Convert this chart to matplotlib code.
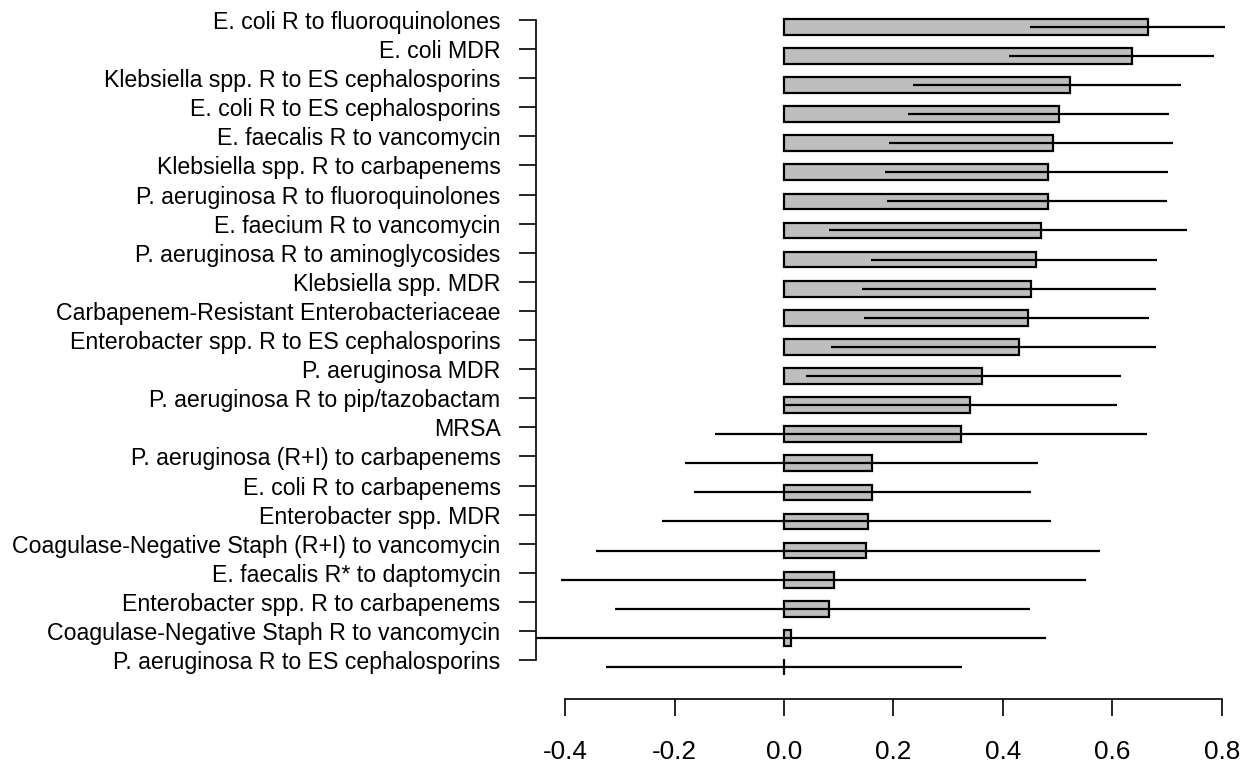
import matplotlib
matplotlib.use("Agg")
import matplotlib.pyplot as plt
import numpy as np

plt.rcParams['font.family'] = ['Liberation Sans', 'DejaVu Sans']

labels = [
    "E. coli R to fluoroquinolones",
    "E. coli MDR",
    "Klebsiella spp. R to ES cephalosporins",
    "E. coli R to ES cephalosporins",
    "E. faecalis R to vancomycin",
    "Klebsiella spp. R to carbapenems",
    "P. aeruginosa R to fluoroquinolones",
    "E. faecium R to vancomycin",
    "P. aeruginosa R to aminoglycosides",
    "Klebsiella spp. MDR",
    "Carbapenem-Resistant Enterobacteriaceae",
    "Enterobacter spp. R to ES cephalosporins",
    "P. aeruginosa MDR",
    "P. aeruginosa R to pip/tazobactam",
    "MRSA",
    "P. aeruginosa (R+I) to carbapenems",
    "E. coli R to carbapenems",
    "Enterobacter spp. MDR",
    "Coagulase-Negative Staph (R+I) to vancomycin",
    "E. faecalis R* to daptomycin",
    "Enterobacter spp. R to carbapenems",
    "Coagulase-Negative Staph R to vancomycin",
    "P. aeruginosa R to ES cephalosporins",
]
values = [0.665, 0.636, 0.523, 0.502, 0.492, 0.483, 0.483, 0.469, 0.461, 0.451,
          0.445, 0.429, 0.362, 0.339, 0.323, 0.160, 0.160, 0.154, 0.150, 0.092,
          0.083, 0.012, 0.0]
ci_low = [0.449, 0.411, 0.236, 0.227, 0.192, 0.184, 0.188, 0.082, 0.159, 0.143,
          0.146, 0.086, 0.041, 0.0, -0.126, -0.180, -0.164, -0.222, -0.344, -0.408,
          -0.308, -0.47, -0.326]
ci_high = [0.806, 0.786, 0.725, 0.703, 0.711, 0.702, 0.699, 0.736, 0.682, 0.679,
           0.667, 0.679, 0.615, 0.609, 0.663, 0.464, 0.452, 0.487, 0.577, 0.551,
           0.449, 0.478, 0.325]
xticks = [-0.4, -0.2, 0.0, 0.2, 0.4, 0.6, 0.8]

W, H = 1244, 767
fig = plt.figure(figsize=(W / 100, H / 100), dpi=100)
ax = fig.add_axes([536 / W, (H - 699) / H, (1240 - 536) / W, 699 / H])

n = len(labels)
pos = np.arange(n)
ax.barh(pos, values, height=0.54, color="#BEBEBE", edgecolor="black", linewidth=1.6, zorder=2)
ax.hlines(pos, ci_low, ci_high, color="black", linewidth=1.6, zorder=3)

ax.set_xlim(-0.453, 0.833)
ax.set_ylim(23.1, -0.921)

tick_off = 0.234
ax.set_yticks(pos - tick_off)
ax.set_yticklabels(labels, fontsize=16.7)
ax.set_xticks(xticks)
ax.set_xticklabels([f"{t:.1f}" for t in xticks], fontsize=18.8)

for s in ["top", "right"]:
    ax.spines[s].set_visible(False)
ax.spines["left"].set_bounds(pos[0] - tick_off, pos[-1] - tick_off)
ax.spines["bottom"].set_bounds(xticks[0], xticks[-1])
for s in ["left", "bottom"]:
    ax.spines[s].set_linewidth(1.2)
ax.tick_params(axis="y", length=12.5, width=1.2, pad=13)
ax.tick_params(axis="x", length=12.5, width=1.2, pad=17)

fig.savefig("out.png", dpi=100)
